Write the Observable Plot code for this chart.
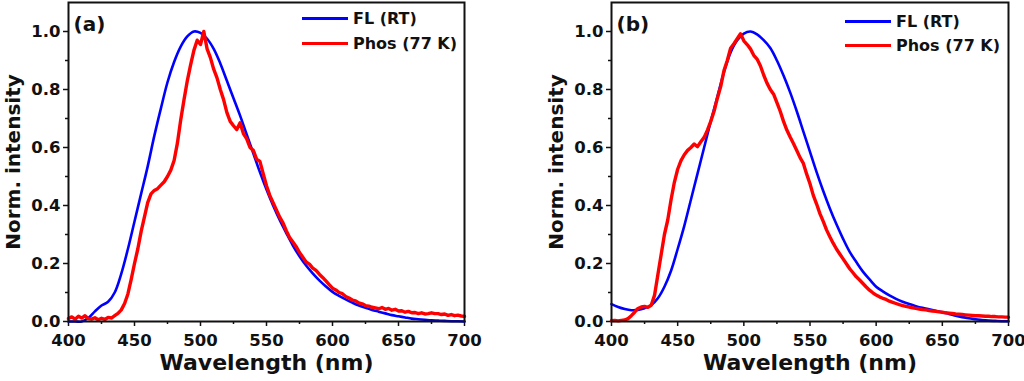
<!DOCTYPE html>
<html>
<head>
<meta charset="utf-8">
<script src="https://cdn.jsdelivr.net/npm/d3@7"></script>
<script src="https://cdn.jsdelivr.net/npm/@observablehq/plot@0.6"></script>
<style>
  body { margin: 0; background: #fff; }
  #wrap { position: relative; width: 1024px; height: 381px; font-family: "DejaVu Sans", sans-serif; font-weight: bold; color: #111; }
  .panel { position: absolute; top: 0; }
  .legend { position: absolute; font-size: 16px; font-weight: bold; }
  .legend .row { position: absolute; left: 0; white-space: nowrap; display: flex; align-items: center; }
  .legend .sw { width: 46px; height: 3px; margin-right: 5px; }
</style>
</head>
<body>
<div id="wrap"></div>
<script>
// ---------- data ----------
const seriesNames = ["FL (RT)", "Phos (77 K)"];
const seriesColors = ["#0000ff", "#ff0000"];
const panelLabels = ["(a)", "(b)"];

const xTicks = [400, 450, 500, 550, 600, 650, 700];
const xMinorTicks = [425, 475, 525, 575, 625, 675];
const yTicks = [0, 0.2, 0.4, 0.6, 0.8, 1.0];
const yMinorTicks = [0.1, 0.3, 0.5, 0.7, 0.9];

// FL (RT) wavelengths, 5 nm
const flWavelengths = [400,405,410,415,420,425,430,435,440,445,450,455,460,465,470,475,480,485,490,495,
  500,505,510,515,520,525,530,535,540,545,550,555,560,565,570,575,580,585,590,595,
  600,605,610,615,620,625,630,635,640,645,650,655,660,665,670,675,680,685,690,695,700];

const flA = [0,0,0,0.012,0.035,0.055,0.068,0.1,0.165,0.25,0.345,0.44,0.535,0.64,0.735,0.825,0.895,0.948,0.983,1.0,
  0.995,0.975,0.94,0.89,0.83,0.77,0.71,0.645,0.58,0.515,0.455,0.4,0.35,0.305,0.262,0.225,0.193,0.166,0.142,0.121,
  0.102,0.088,0.076,0.065,0.055,0.047,0.04,0.034,0.028,0.022,0.018,0.014,0.01,0.008,0.006,0.004,0.003,0.002,0.001,0.001,0];

const flB = [0.06,0.05,0.043,0.039,0.04,0.046,0.056,0.08,0.12,0.175,0.25,0.33,0.42,0.51,0.6,0.69,0.775,0.86,0.928,0.97,
  0.993,1.0,0.99,0.97,0.943,0.9,0.848,0.79,0.725,0.655,0.585,0.515,0.45,0.39,0.335,0.285,0.24,0.205,0.172,0.145,
  0.12,0.104,0.09,0.078,0.068,0.06,0.053,0.047,0.042,0.037,0.032,0.026,0.02,0.015,0.011,0.008,0.005,0.003,0.002,0.001,0.001];

// Phos (77 K) wavelengths, 2.5 nm
const phosWavelengths = [400,402.5,405,407.5,410,412.5,415,417.5,420,422.5,425,427.5,430,432.5,435,437.5,440,442.5,445,447.5,
  450,452.5,455,457.5,460,462.5,465,467.5,470,472.5,475,477.5,480,482.5,485,487.5,490,492.5,495,497.5,
  500,502.5,505,507.5,510,512.5,515,517.5,520,522.5,525,527.5,530,532.5,535,537.5,540,542.5,545,547.5,
  550,552.5,555,557.5,560,562.5,565,567.5,570,572.5,575,577.5,580,582.5,585,587.5,590,592.5,595,597.5,
  600,602.5,605,607.5,610,612.5,615,617.5,620,622.5,625,627.5,630,632.5,635,637.5,640,642.5,645,647.5,
  650,652.5,655,657.5,660,662.5,665,667.5,670,672.5,675,677.5,680,682.5,685,687.5,690,692.5,695,697.5,700];

const phosA = [0.01,0.016,0.008,0.018,0.012,0.02,0.01,0.008,0.013,0.006,0.011,0.007,0.014,0.012,0.02,0.028,0.04,0.062,0.095,0.145,
  0.2,0.25,0.31,0.36,0.41,0.44,0.452,0.458,0.47,0.482,0.5,0.522,0.555,0.615,0.695,0.765,0.83,0.885,0.935,0.97,
  0.955,1.0,0.94,0.91,0.87,0.84,0.8,0.765,0.72,0.69,0.675,0.662,0.685,0.648,0.63,0.6,0.59,0.56,0.552,0.51,
  0.468,0.435,0.41,0.385,0.36,0.34,0.313,0.29,0.274,0.258,0.238,0.222,0.205,0.198,0.184,0.176,0.163,0.152,0.14,0.127,
  0.115,0.109,0.1,0.096,0.086,0.081,0.074,0.071,0.064,0.061,0.055,0.053,0.049,0.047,0.044,0.048,0.042,0.045,0.039,0.042,
  0.036,0.037,0.032,0.035,0.03,0.031,0.027,0.03,0.026,0.027,0.03,0.027,0.027,0.024,0.026,0.021,0.024,0.02,0.022,0.019,0.018];

const phosB = [0.003,0.004,0.002,0.004,0.005,0.01,0.02,0.032,0.045,0.05,0.052,0.049,0.056,0.09,0.16,0.23,0.3,0.35,0.42,0.48,
  0.525,0.555,0.575,0.59,0.6,0.612,0.603,0.62,0.635,0.66,0.69,0.725,0.77,0.81,0.865,0.9,0.942,0.958,0.975,0.992,
  0.968,0.955,0.94,0.918,0.905,0.882,0.85,0.822,0.8,0.784,0.755,0.725,0.69,0.66,0.636,0.614,0.59,0.565,0.545,0.508,
  0.475,0.435,0.405,0.372,0.345,0.316,0.292,0.27,0.25,0.233,0.216,0.199,0.182,0.168,0.154,0.143,0.131,0.119,0.108,0.099,
  0.091,0.085,0.08,0.076,0.07,0.066,0.062,0.058,0.055,0.052,0.05,0.047,0.045,0.043,0.041,0.04,0.038,0.036,0.035,0.033,
  0.032,0.03,0.029,0.028,0.026,0.025,0.024,0.023,0.022,0.021,0.02,0.02,0.019,0.018,0.018,0.017,0.017,0.016,0.016,0.015,0.015];

// ---------- drawing ----------
const panels = [
  {fl: flA, phos: phosA, left: 0, marginLeft: 68, marginRight: 48, legendX: 302, legendY: [18, 43]},
  {fl: flB, phos: phosB, left: 512, marginLeft: 99, marginRight: 16, legendX: 333, legendY: [21, 45]}
];

const wrap = document.getElementById("wrap");

panels.forEach((p, i) => {
  const flData = flWavelengths.map((w, k) => ({w, v: p.fl[k]}));
  const phosData = phosWavelengths.map((w, k) => ({w, v: p.phos[k]}));

  const chart = Plot.plot({
    width: 512,
    height: 381,
    marginLeft: p.marginLeft,
    marginRight: p.marginRight,
    marginTop: 2,
    marginBottom: 60,
    style: {fontFamily: "DejaVu Sans", fontWeight: "bold", fontSize: "16.5px", color: "#111", background: "white", overflow: "visible"},
    x: {domain: [400, 700]},
    y: {domain: [0, 1.1]},
    marks: [
      Plot.axisX({ticks: xTicks, tickSize: 5, tickPadding: 8, tickFormat: d => String(d), label: null, strokeWidth: 1.5}),
      Plot.axisX({ticks: xMinorTicks, tickSize: 3, text: null, label: null, strokeWidth: 1.5}),
      Plot.axisY({ticks: yTicks, tickSize: 5, tickPadding: 3, tickFormat: d3.format(".1f"), label: null, strokeWidth: 1.5}),
      Plot.axisY({ticks: yMinorTicks, tickSize: 3, text: null, label: null, strokeWidth: 1.5}),
      Plot.line(flData, {x: "w", y: "v", stroke: seriesColors[0], strokeWidth: 2.6, curve: "catmull-rom"}),
      Plot.line(phosData, {x: "w", y: "v", stroke: seriesColors[1], strokeWidth: 3.4, curve: "linear"}),
      Plot.frame({stroke: "#111", strokeWidth: 2}),
      Plot.text([panelLabels[i]], {frameAnchor: "top-left", dx: 5, dy: 22, textAnchor: "start", lineAnchor: "middle", fontSize: 20, fontWeight: "bold", fill: "#111"}),
      Plot.text(["Norm. intensity"], {frameAnchor: "left", dx: -55, rotate: -90, textAnchor: "middle", lineAnchor: "middle", fontSize: 20, fontWeight: "bold", fill: "#111"}),
      Plot.text(["Wavelength (nm)"], {frameAnchor: "bottom", dy: 41, textAnchor: "middle", lineAnchor: "middle", fontSize: 22, fontWeight: "bold", fill: "#111"})
    ]
  });

  const div = document.createElement("div");
  div.className = "panel";
  div.style.left = p.left + "px";
  div.appendChild(chart);
  wrap.appendChild(div);

  // legend
  const leg = document.createElement("div");
  leg.className = "legend";
  leg.style.left = (p.left + p.legendX) + "px";
  leg.style.top = "0px";
  seriesNames.forEach((name, k) => {
    const row = document.createElement("div");
    row.className = "row";
    row.style.top = (p.legendY[k] - 11) + "px";
    row.style.height = "22px";
    const sw = document.createElement("span");
    sw.className = "sw";
    sw.style.background = seriesColors[k];
    const tx = document.createElement("span");
    tx.textContent = name;
    row.appendChild(sw);
    row.appendChild(tx);
    leg.appendChild(row);
  });
  wrap.appendChild(leg);
});
</script>
</body>
</html>
